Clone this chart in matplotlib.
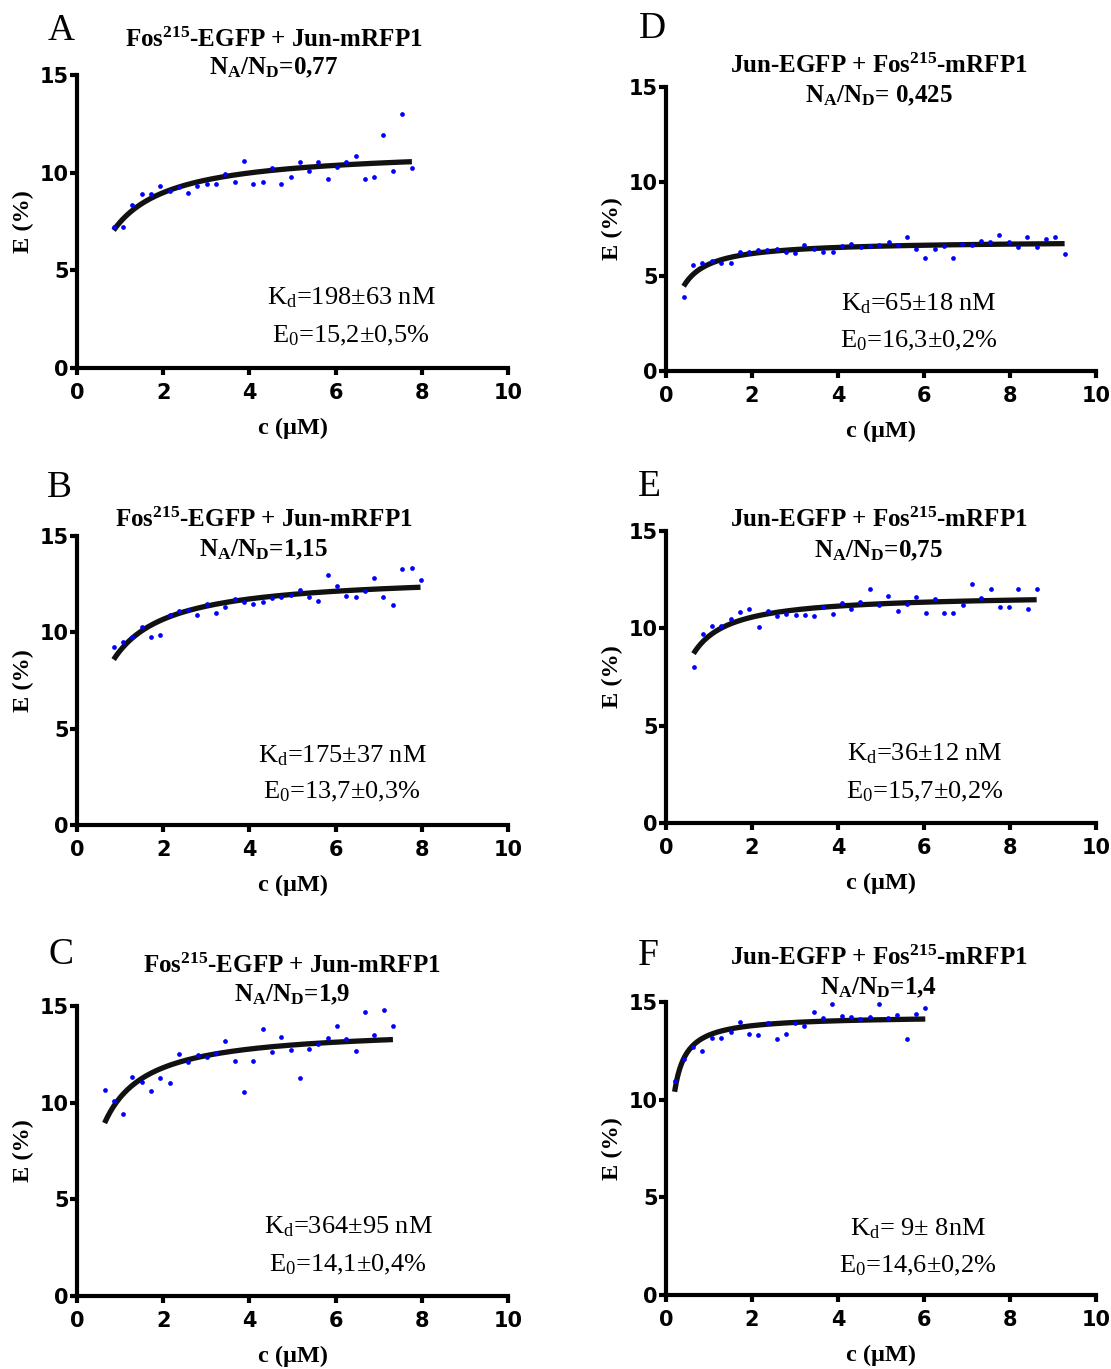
import numpy as np
import matplotlib
matplotlib.use("Agg")
import matplotlib.pyplot as plt

plt.rcParams['mathtext.default'] = 'regular'

W, H = 1111, 1369

# concentration (uM) and FRET efficiency (%) for each titration
cA = [0.85, 1.07, 1.28, 1.50, 1.72, 1.93, 2.15, 2.36, 2.58, 2.79, 3.01, 3.22, 3.44, 3.66, 3.87, 4.09, 4.31,
      4.52, 4.74, 4.96, 5.17, 5.38, 5.60, 5.82, 6.03, 6.25, 6.47, 6.68, 6.90, 7.11, 7.33, 7.55, 7.77]
eA = [7.24, 7.21, 8.33, 8.90, 8.91, 9.32, 9.08, 9.27, 8.98, 9.34, 9.41, 9.41, 9.92, 9.51, 10.62, 9.41, 9.51,
      10.23, 9.41, 9.77, 10.55, 10.11, 10.55, 9.66, 10.31, 10.55, 10.86, 9.70, 9.78, 11.93, 10.11, 13.02, 10.23]

cB = [0.85, 1.07, 1.28, 1.50, 1.72, 1.93, 2.15, 2.37, 2.58, 2.79, 3.01, 3.22, 3.44, 3.66, 3.87, 4.09, 4.31,
      4.52, 4.74, 4.96, 5.17, 5.38, 5.60, 5.82, 6.03, 6.25, 6.47, 6.68, 6.90, 7.11, 7.33, 7.55, 7.77, 7.97]
eB = [9.22, 9.52, 9.78, 10.29, 9.78, 9.88, 10.88, 11.11, 11.16, 10.88, 11.49, 11.00, 11.33, 11.71, 11.60, 11.49,
      11.57, 11.76, 11.85, 11.95, 12.21, 11.83, 11.64, 12.98, 12.42, 11.89, 11.83, 12.13, 12.80, 11.83, 11.40,
      13.27, 13.32, 12.72]

cC = [0.64, 0.86, 1.07, 1.28, 1.50, 1.72, 1.93, 2.15, 2.37, 2.58, 2.80, 3.01, 3.23, 3.44, 3.66, 3.87, 4.09,
      4.31, 4.52, 4.74, 4.96, 5.17, 5.38, 5.60, 5.82, 6.03, 6.25, 6.47, 6.68, 6.90, 7.12, 7.33]
eC = [10.64, 10.09, 9.41, 11.34, 11.07, 10.62, 11.29, 11.02, 12.52, 12.10, 12.48, 12.38, 12.55, 13.19, 12.17,
      10.57, 12.16, 13.79, 12.64, 13.40, 12.71, 11.29, 12.76, 13.03, 13.36, 13.98, 13.31, 12.67, 14.67, 13.48,
      14.79, 13.98]

cD = [0.41, 0.63, 0.84, 1.06, 1.28, 1.50, 1.71, 1.93, 2.15, 2.36, 2.57, 2.79, 3.01, 3.22, 3.44, 3.66, 3.88,
      4.09, 4.31, 4.53, 4.74, 4.96, 5.18, 5.40, 5.60, 5.82, 6.03, 6.25, 6.47, 6.67, 6.89, 7.11, 7.33, 7.53,
      7.75, 7.97, 8.19, 8.40, 8.62, 8.84, 9.05, 9.27]
eD = [3.92, 5.59, 5.72, 5.80, 5.72, 5.72, 6.30, 6.26, 6.40, 6.39, 6.42, 6.26, 6.21, 6.65, 6.45, 6.26, 6.30,
      6.62, 6.72, 6.53, 6.60, 6.65, 6.81, 6.65, 7.08, 6.42, 5.98, 6.42, 6.60, 5.98, 6.69, 6.65, 6.88, 6.81,
      7.18, 6.83, 6.53, 7.06, 6.56, 6.97, 7.06, 6.19]

cE = [0.64, 0.86, 1.08, 1.29, 1.51, 1.73, 1.94, 2.16, 2.37, 2.59, 2.80, 3.02, 3.24, 3.44, 3.66, 3.88, 4.09,
      4.30, 4.52, 4.74, 4.95, 5.17, 5.39, 5.60, 5.82, 6.04, 6.25, 6.47, 6.68, 6.90, 7.11, 7.33, 7.55, 7.76,
      7.98, 8.19, 8.41, 8.62]
eE = [8.03, 9.69, 10.11, 10.13, 10.46, 10.83, 11.00, 10.08, 10.87, 10.64, 10.76, 10.68, 10.68, 10.64, 11.10,
      10.75, 11.31, 10.99, 11.36, 12.01, 11.19, 11.67, 10.90, 11.24, 11.62, 10.78, 11.52, 10.78, 10.78, 11.21,
      12.30, 11.58, 12.01, 11.11, 11.11, 12.01, 10.99, 12.01]

cF = [0.20, 0.42, 0.63, 0.84, 1.06, 1.28, 1.50, 1.71, 1.93, 2.15, 2.37, 2.57, 2.79, 3.01, 3.22, 3.44, 3.66,
      3.87, 4.09, 4.31, 4.52, 4.74, 4.95, 5.17, 5.38, 5.60, 5.82, 6.03]
eF = [10.96, 12.10, 12.69, 12.49, 13.14, 13.18, 13.45, 13.96, 13.38, 13.29, 13.94, 13.12, 13.34, 13.94, 13.79,
      14.48, 14.20, 14.91, 14.30, 14.25, 14.11, 14.21, 14.89, 14.20, 14.35, 13.12, 14.40, 14.68]

letters = ['A', 'B', 'C', 'D', 'E', 'F']
titles = ['Fos$^{215}$-EGFP + Jun-mRFP1'] * 3 + ['Jun-EGFP + Fos$^{215}$-mRFP1'] * 3
ratios = ['N$_A$/N$_D$=0,77', 'N$_A$/N$_D$=1,15', 'N$_A$/N$_D$=1,9',
          'N$_A$/N$_D$= 0,425', 'N$_A$/N$_D$=0,75', 'N$_A$/N$_D$=1,4']
kd_text = ['K$_d$=198±63 nM', 'K$_d$=175±37 nM', 'K$_d$=364±95 nM',
           'K$_d$=65±18 nM', 'K$_d$=36±12 nM', 'K$_d$= 9± 8nM']
e0_text = ['E$_0$=15,2±0,5%', 'E$_0$=13,7±0,3%', 'E$_0$=14,1±0,4%',
           'E$_0$=16,3±0,2%', 'E$_0$=15,7±0,2%', 'E$_0$=14,6±0,2%']
conc = [cA, cB, cC, cD, cE, cF]
eff = [eA, eB, eC, eD, eE, eF]

# panel layout in pixels: axes box (left, top, right, bottom)
boxes = [(77, 75, 508, 368), (77, 536, 508, 825), (77, 1006, 508, 1296),
         (666, 87, 1096, 371), (666, 531, 1096, 823), (666, 1002, 1096, 1295)]
letter_pos = [(48, 31), (47, 488), (48, 955), (639, 29), (638, 487), (638, 956)]
title_pos = [(274, 40, 68), (264, 520, 550), (292, 966, 995),
             (879, 66, 96), (879, 520, 551), (879, 958, 988)]
note_pos = [(351, 304, 342), (342, 762, 798), (348, 1233, 1271),
            (919, 310, 347), (925, 760, 798), (918, 1235, 1272)]

serif = 'Liberation Serif'


def fx(x):
    return x / W


def fy(y):
    return 1 - y / H


def fit_binding(c, e):
    # least-squares fit of E = Emax*c/(K+c), K scanned on a grid
    c = np.asarray(c)
    e = np.asarray(e)
    best = None
    for k in np.linspace(0.005, 5, 5000):
        g = c / (k + c)
        a = np.dot(g, e) / np.dot(g, g)
        sse = np.sum((e - a * g) ** 2)
        if best is None or sse < best[0]:
            best = (sse, a, k)
    return best[1], best[2]


fig = plt.figure(figsize=(W / 100, H / 100), dpi=100)

for i in range(6):
    l, t, r, b = boxes[i]
    ax = fig.add_axes([fx(l), fy(b), (r - l) / W, (b - t) / H])
    c = np.asarray(conc[i])
    e = np.asarray(eff[i])

    emax, k = fit_binding(c, e)
    xs = np.linspace(c.min(), c.max(), 300)
    ax.plot(xs, emax * xs / (k + xs), color='#111111', lw=3.8, solid_capstyle='butt', zorder=2)
    ax.plot(c, e, 'o', color='#0000ff', ms=3.4, mew=0, zorder=3, clip_on=False)

    ax.set_xlim(0, 10)
    ax.set_ylim(0, 15)
    ax.set_xticks([0, 2, 4, 6, 8, 10])
    ax.set_yticks([0, 5, 10, 15])
    for s in ['top', 'right']:
        ax.spines[s].set_visible(False)
    for s in ['left', 'bottom']:
        ax.spines[s].set_linewidth(3)
    ax.tick_params(direction='out', length=5, width=3, labelsize=15)
    ax.tick_params(axis='x', pad=6)
    ax.tick_params(axis='y', pad=1)
    for lab in ax.get_xticklabels() + ax.get_yticklabels():
        lab.set_fontweight('bold')
        lab.set_fontfamily('DejaVu Sans')

    ax.set_xlabel('c (μM)', fontsize=17.5, fontweight='bold', fontfamily=serif)
    ax.set_ylabel('E (%)', fontsize=17.5, fontweight='bold', fontfamily=serif)
    ax.xaxis.set_label_coords(0.5, -60 / (b - t))
    ax.xaxis.label.set_va('center')
    ax.yaxis.set_label_coords(-54 / (r - l), 0.5)
    ax.yaxis.label.set_va('center')

    lx, ly = letter_pos[i]
    fig.text(fx(lx), fy(ly), letters[i], fontsize=27, fontfamily=serif, ha='left', va='center')

    tx, ty1, ty2 = title_pos[i]
    fig.text(fx(tx), fy(ty1), titles[i], fontsize=18, fontweight='bold', fontfamily=serif,
             ha='center', va='center')
    fig.text(fx(tx), fy(ty2), ratios[i], fontsize=18, fontweight='bold', fontfamily=serif,
             ha='center', va='center')

    nx, ny1, ny2 = note_pos[i]
    fig.text(fx(nx), fy(ny1), kd_text[i], fontsize=19, fontfamily=serif, ha='center', va='baseline')
    fig.text(fx(nx), fy(ny2), e0_text[i], fontsize=19, fontfamily=serif, ha='center', va='baseline')

fig.savefig('out.png', dpi=100)
